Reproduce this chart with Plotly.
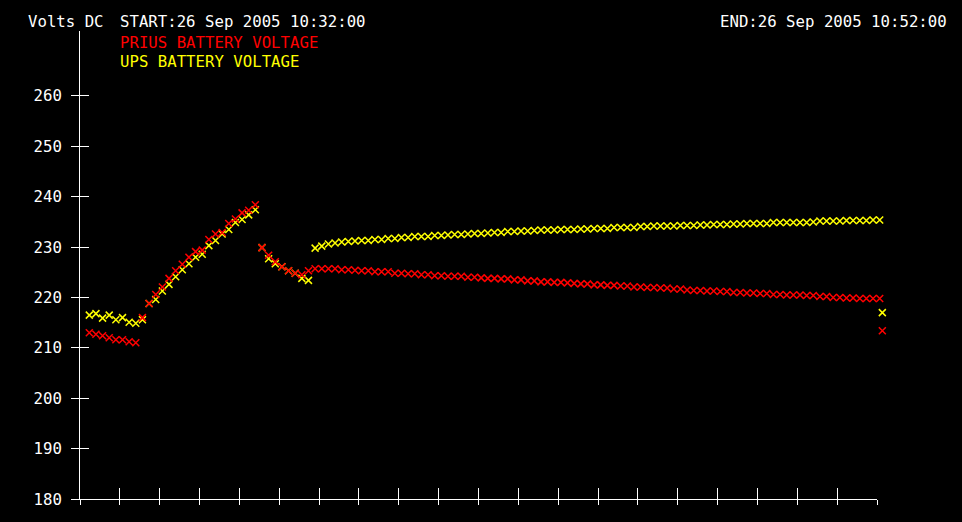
import pandas as pd
import plotly.graph_objects as go

# ---- data ----
prius_v = [213.0, 212.7, 212.4, 212.0, 211.6, 211.6, 211.2, 211.0, 216.0, 218.8,
           220.6, 222.1, 223.8, 225.3, 226.6, 228.0, 229.1, 229.4, 231.5, 232.6,
           232.9, 234.7, 235.6, 236.8, 237.3, 238.4, 229.9, 228.4, 227.1, 226.1,
           225.3, 224.8, 224.5, 225.3, 225.7, 225.7, 225.7, 225.7, 225.5, 225.5,
           225.4, 225.3, 225.3, 225.1, 225.1, 225.1, 224.8, 224.8, 224.7, 224.7,
           224.5, 224.5, 224.3, 224.3, 224.2, 224.2, 224.2, 224.0, 224.0, 223.9,
           223.8, 223.8, 223.7, 223.7, 223.5, 223.5, 223.3, 223.3, 223.1, 223.1,
           223.0, 223.0, 222.9, 222.8, 222.7, 222.7, 222.5, 222.5, 222.4, 222.4,
           222.3, 222.3, 222.1, 222.1, 222.0, 222.0, 221.9, 221.9, 221.7, 221.7,
           221.5, 221.4, 221.4, 221.3, 221.3, 221.2, 221.2, 221.0, 221.0, 220.9,
           220.9, 220.8, 220.8, 220.6, 220.6, 220.5, 220.5, 220.5, 220.4, 220.4,
           220.2, 220.2, 220.0, 220.0, 219.9, 219.9, 219.8, 219.8, 219.8, 219.8,
           213.4]
ups_v = [216.5, 216.8, 215.9, 216.5, 215.6, 216.0, 215.1, 214.9, 215.6, 218.8,
         219.6, 221.3, 222.6, 224.1, 225.5, 226.7, 228.0, 228.6, 230.3, 231.3,
         232.6, 233.5, 234.9, 235.5, 236.4, 237.4, 229.9, 227.7, 226.7, 226.1,
         225.3, 224.8, 223.8, 223.4, 229.8, 230.2, 230.6, 230.8, 231.0, 231.1,
         231.2, 231.3, 231.3, 231.5, 231.5, 231.7, 231.7, 231.9, 231.9, 232.1,
         232.1, 232.1, 232.3, 232.3, 232.4, 232.5, 232.5, 232.6, 232.7, 232.7,
         232.8, 232.9, 232.9, 233.1, 233.1, 233.2, 233.2, 233.3, 233.4, 233.4,
         233.4, 233.5, 233.5, 233.5, 233.6, 233.6, 233.7, 233.7, 233.7, 233.9,
         233.9, 233.9, 233.9, 234.1, 234.1, 234.2, 234.2, 234.2, 234.2, 234.3,
         234.3, 234.3, 234.4, 234.4, 234.5, 234.5, 234.5, 234.6, 234.6, 234.7,
         234.7, 234.7, 234.7, 234.9, 234.9, 234.9, 234.9, 234.9, 234.9, 235.0,
         235.2, 235.2, 235.2, 235.2, 235.3, 235.3, 235.3, 235.3, 235.4, 235.4,
         217.0]

# sample clock: one reading every 10 s, plus a final reading
sample_times = list(pd.date_range("2005-09-26 10:32:14", periods=120, freq="10s")) + \
               [pd.Timestamp("2005-09-26 10:52:08")]

start_time = "2005-09-26 10:32:00"
end_time = "2005-09-26 10:52:00"
data_end_time = "2005-09-26 10:52:12"   # a little room for the last readings
y_ticks = [180, 190, 200, 210, 220, 230, 240, 250, 260]
y_range = [180, 272.9]

series_names = ["PRIUS BATTERY VOLTAGE", "UPS BATTERY VOLTAGE"]
series_colors = ["#ff0000", "#ffff00"]

FONT = "DejaVu Sans Mono"
FS = 15.7

# plot area: x 80 -> 885 px (data), axis drawn 80 -> 877 px
PLOT_W = 805
AXIS_FRAC = 797 / PLOT_W

fig = go.Figure()
for name, vals, col in [(series_names[1], ups_v, series_colors[1]),
                        (series_names[0], prius_v, series_colors[0])]:
    fig.add_trace(go.Scatter(
        x=sample_times, y=vals, mode="markers", name=name,
        marker=dict(symbol="x-thin", size=7, color=col,
                    line=dict(color=col, width=1.5)),
        cliponaxis=False, showlegend=False, hoverinfo="x+y"))

# empty helper traces so the tick axes are drawn
fig.add_trace(go.Scatter(x=[], y=[], xaxis="x2", yaxis="y", showlegend=False, hoverinfo="skip"))
fig.add_trace(go.Scatter(x=[], y=[], xaxis="x3", yaxis="y", showlegend=False, hoverinfo="skip"))
fig.add_trace(go.Scatter(x=[], y=[], xaxis="x", yaxis="y2", showlegend=False, hoverinfo="skip"))

axis_common = dict(showgrid=False, zeroline=False, color="white")

fig.update_layout(
    width=962, height=522,
    margin=dict(l=80, r=962 - 80 - PLOT_W, t=31, b=23, pad=0),
    paper_bgcolor="black", plot_bgcolor="rgba(0,0,0,0)",
    font=dict(family=FONT, size=FS, color="white"),
    xaxis=dict(type="date", range=[start_time, data_end_time], domain=[0, 1],
               showline=False, ticks="", showticklabels=False, **axis_common),
    xaxis2=dict(type="date", range=[start_time, end_time], domain=[0, AXIS_FRAC],
                anchor="y", dtick=60000, tick0=start_time,
                showline=True, linecolor="white", linewidth=1,
                ticks="outside", ticklen=5, tickwidth=1, tickcolor="white",
                showticklabels=False, **axis_common),
    xaxis3=dict(type="date", range=[start_time, end_time], domain=[0, AXIS_FRAC],
                anchor="y", overlaying="x2", dtick=60000, tick0=start_time,
                ticks="inside", ticklen=11, tickwidth=1, tickcolor="white",
                showline=False, showticklabels=False, **axis_common),
    yaxis=dict(range=y_range, tickvals=y_ticks, ticktext=[str(v) for v in y_ticks],
               anchor="x", showline=True, linecolor="white", linewidth=1,
               ticks="outside", ticklen=8, tickwidth=1, tickcolor="white",
               ticklabelstandoff=6,
               tickfont=dict(family=FONT, size=FS, color="white"), **axis_common),
    yaxis2=dict(range=y_range, tickvals=y_ticks, overlaying="y", anchor="x", side="left",
                ticks="inside", ticklen=9, tickwidth=1, tickcolor="white",
                showline=False, showticklabels=False, **axis_common),
)

def px_to_paper(px, py):
    return (px - 80) / PLOT_W, (499 - py) / 468.0

texts = [
    ("Volts DC", 27, 21, "white", "left"),
    ("START:26 Sep 2005 10:32:00", 119, 21, "white", "left"),
    (series_names[0], 119, 42, series_colors[0], "left"),
    (series_names[1], 119, 62, series_colors[1], "left"),
    ("END:26 Sep 2005 10:52:00", 948, 21, "white", "right"),
]
for t, px, py, col, anchor in texts:
    xp, yp = px_to_paper(px, py)
    fig.add_annotation(text=t, x=xp, y=yp, xref="paper", yref="paper",
                       xanchor=anchor, yanchor="middle", showarrow=False,
                       font=dict(family=FONT, size=FS, color=col), borderpad=0)

fig.write_html("out.html", config={"displayModeBar": False},
               post_script="document.body.style.margin='0px';")
